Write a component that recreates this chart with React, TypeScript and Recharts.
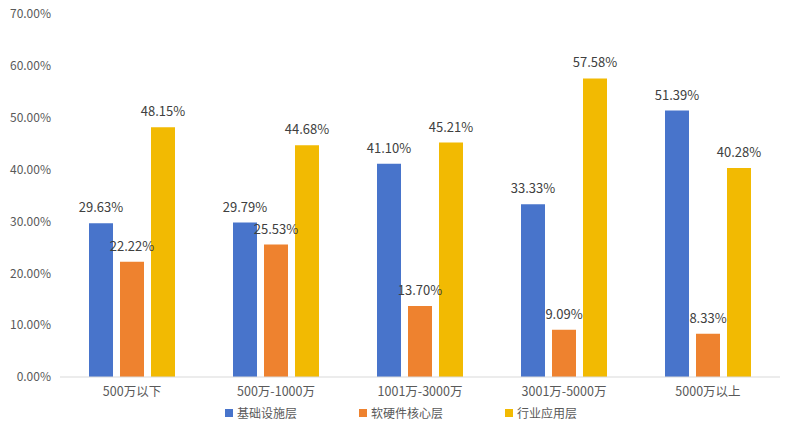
import React from "react"
import { BarChart, Bar, XAxis, YAxis, Legend, LabelList } from "recharts";

const categories = ["500万以下", "500万-1000万", "1001万-3000万", "3001万-5000万", "5000万以上"];
const infra = [29.63, 29.79, 41.10, 33.33, 51.39];
const core = [22.22, 25.53, 13.70, 9.09, 8.33];
const industry = [48.15, 44.68, 45.21, 57.58, 40.28];
const yTicks = [0, 10, 20, 30, 40, 50, 60, 70];

const series = [
    { key: "基础设施层", values: infra, color: "#4874CB" },
    { key: "软硬件核心层", values: core, color: "#EE822F" },
    { key: "行业应用层", values: industry, color: "#F2BA02" },
];

const data = categories.map((name, i) => {
    const row: Record<string, string | number> = { name };
    series.forEach(s => { row[s.key] = s.values[i] });
    return row;
});

const font = "'Microsoft YaHei', 'Noto Sans CJK SC', sans-serif";
const pct = (v: any) => `${Number(v).toFixed(2)}%`;

function LegendBox() {
    return (
        <div style={{ display: "flex", justifyContent: "center", paddingLeft: 22, fontFamily: font, fontSize: 12, lineHeight: "16px", color: "#595959" }}>
            {series.map((s, i) => (
                <div key={s.key} style={{ display: "flex", alignItems: "center", marginRight: i < series.length - 1 ? 62 : 0 }}>
                    <span style={{ width: 8, height: 8, background: s.color, display: "inline-block", marginRight: 4 }} />
                    <span>{s.key}</span>
                </div>
            ))}
        </div>
    )
}

export default function App() {
    return (
        <div style={{ position: "absolute", left: 0, top: 0, width: 794, height: 441, background: "#fff" }}>
            <BarChart width={794} height={441} data={data}
                margin={{ top: 14, right: 14, bottom: 18, left: 0 }}
                barGap={7} barCategoryGap={29}>
                <XAxis dataKey="name" tickLine={false} axisLine={{ stroke: "#d9d9d9" }}
                    tick={{ fontSize: 12.5, fill: "#595959", fontFamily: font }} tickMargin={4} />
                <YAxis domain={[0, 70]} ticks={yTicks} tickFormatter={pct} width={60}
                    tickLine={false} axisLine={false} interval={0}
                    tick={{ fontSize: 12, fill: "#595959", fontFamily: font }} tickMargin={3} />
                <Legend verticalAlign="bottom" content={<LegendBox />} wrapperStyle={{ bottom: 20 }} />
                {series.map(s => (
                    <Bar key={s.key} dataKey={s.key} fill={s.color} isAnimationActive={false}>
                        <LabelList dataKey={s.key} position="top" offset={11} formatter={pct}
                            style={{ fontSize: 13, fill: "#404040", fontFamily: font }} />
                    </Bar>
                ))}
            </BarChart>
        </div>
    )
}
